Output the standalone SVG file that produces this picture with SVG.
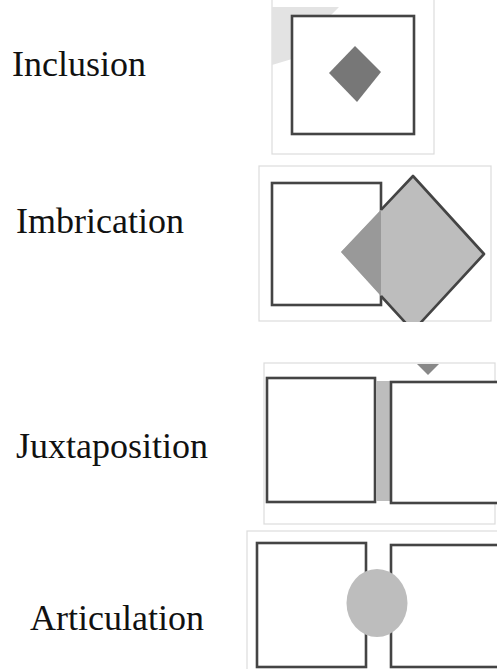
<svg xmlns="http://www.w3.org/2000/svg" width="497" height="669" viewBox="0 0 497 669">
<style>
.lbl{font-family:"Liberation Serif","Times New Roman",serif;font-size:36px;fill:#111}
.frame{fill:#fff;stroke:#dcdcdc;stroke-width:1.2}
.sq{fill:#fff;stroke:#444;stroke-width:2.6}
</style>
<defs>
<clipPath id="imbClip"><rect x="259" y="166" width="238" height="156"/></clipPath>
</defs>
<rect width="497" height="669" fill="#fff"/>

<g id="inclusion">
<text class="lbl" x="12" y="76">Inclusion</text>
<rect class="frame" x="272" y="-3" width="162" height="157"/>
<polygon points="272,7 339,7 330,16 292,59 272,65" fill="#e3e3e3"/>
<rect class="sq" x="292" y="16" width="122" height="118"/>
<polygon points="355,46 381,72 357,102 329,73" fill="#777"/>
</g>

<g id="imbrication">
<text class="lbl" x="16" y="233">Imbrication</text>
<rect class="frame" x="259" y="166" width="232" height="155"/>
<rect class="sq" x="272" y="183" width="109" height="122"/>
<g clip-path="url(#imbClip)">
<polygon points="413,176 484,254 413,331 341,252" fill="#bdbdbd"/>
<polygon points="381,209.8 341,252 381,296" fill="#999"/>
<path d="M381,209.8 L413,176 L484,254 L413,331 L381,296" fill="none" stroke="#444" stroke-width="2.6" stroke-linejoin="round"/>
</g>
</g>

<g id="juxtaposition">
<text class="lbl" x="16" y="458">Juxtaposition</text>
<rect class="frame" x="264" y="363" width="231" height="161"/>
<rect class="sq" x="267" y="378" width="108" height="124"/>
<rect x="376" y="381" width="14" height="120" fill="#bdbdbd"/>
<rect class="sq" x="391" y="382" width="120" height="121"/>
<polygon points="417,364 439,364 428,375" fill="#888"/>
</g>

<g id="articulation">
<text class="lbl" x="30" y="630">Articulation</text>
<rect class="frame" x="247" y="531" width="260" height="150"/>
<rect class="sq" x="257" y="543" width="109" height="124"/>
<rect class="sq" x="391" y="545" width="120" height="122"/>
<ellipse cx="377" cy="603" rx="30.5" ry="34" fill="#bdbdbd"/>
</g>

<g id="connectors"></g>
</svg>
